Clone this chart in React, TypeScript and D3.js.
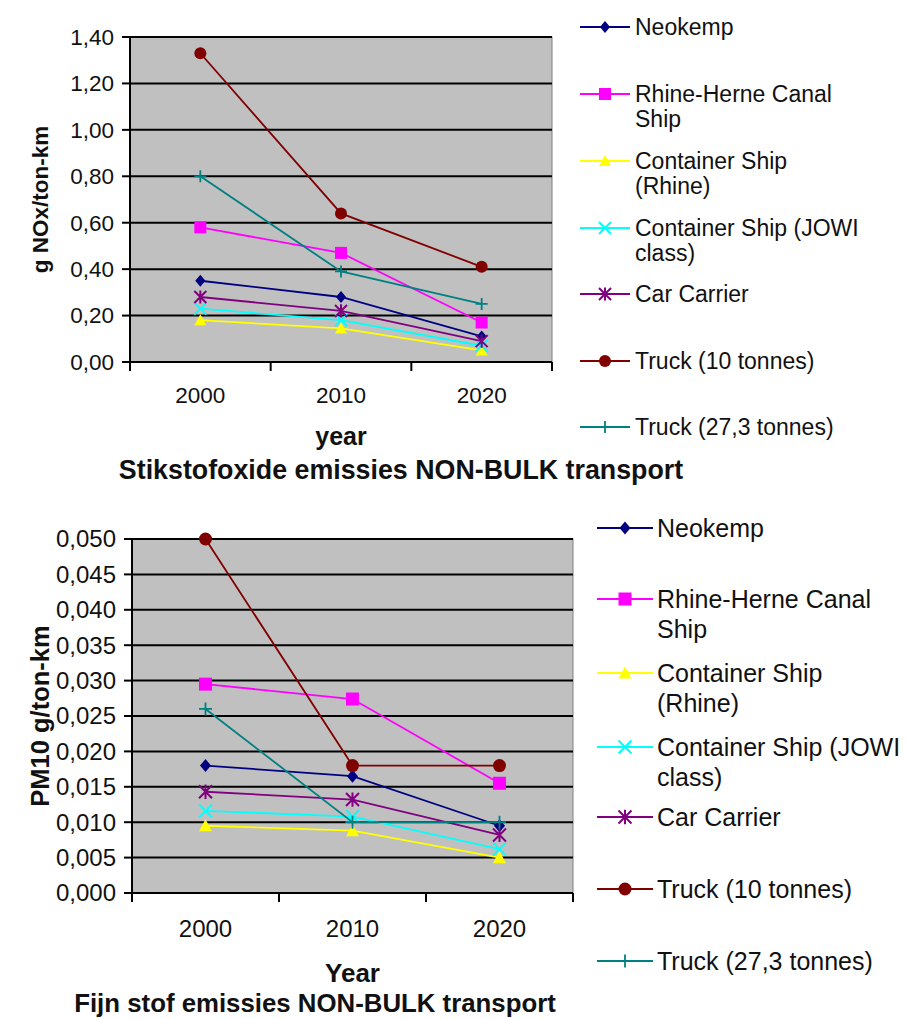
import React from "react";
import * as d3 from "d3";

// Categories and series
const years = ["2000", "2010", "2020"];
const seriesLabels: string[][] = [
  ["Neokemp"],
  ["Rhine-Herne Canal", "Ship"],
  ["Container Ship", "(Rhine)"],
  ["Container Ship (JOWI", "class)"],
  ["Car Carrier"],
  ["Truck (10 tonnes)"],
  ["Truck (27,3 tonnes)"],
];
const seriesColors = ["#000080", "#FF00FF", "#FFFF00", "#00FFFF", "#800080", "#800000", "#008080"];
const seriesMarkers = ["diamond", "square", "triangle", "x", "star", "circle", "plus"];

// NOx, g/ton-km
const noxNeokemp = [0.35, 0.28, 0.11];
const noxRhineHerne = [0.58, 0.47, 0.17];
const noxContainerRhine = [0.18, 0.145, 0.05];
const noxContainerJowi = [0.23, 0.18, 0.07];
const noxCarCarrier = [0.28, 0.22, 0.09];
const noxTruck10 = [1.33, 0.64, 0.41];
const noxTruck27 = [0.8, 0.39, 0.25];

// PM10, g/ton-km
const pmNeokemp = [0.018, 0.0165, 0.0095];
const pmRhineHerne = [0.0295, 0.0274, 0.0155];
const pmContainerRhine = [0.0095, 0.0088, 0.005];
const pmContainerJowi = [0.0116, 0.0108, 0.0062];
const pmCarCarrier = [0.0143, 0.0132, 0.0082];
const pmTruck10 = [0.05, 0.018, 0.018];
const pmTruck27 = [0.026, 0.01, 0.01];

// Axis ticks
const noxTicks = [0, 0.2, 0.4, 0.6, 0.8, 1.0, 1.2, 1.4];
const pmTicks = [0, 0.005, 0.01, 0.015, 0.02, 0.025, 0.03, 0.035, 0.04, 0.045, 0.05];

const noxSeries = [noxNeokemp, noxRhineHerne, noxContainerRhine, noxContainerJowi, noxCarCarrier, noxTruck10, noxTruck27];
const pmSeries = [pmNeokemp, pmRhineHerne, pmContainerRhine, pmContainerJowi, pmCarCarrier, pmTruck10, pmTruck27];

const nl = d3.formatLocale({ decimal: ",", thousands: ".", grouping: [3], currency: ["", ""] });

const FONT = "'Liberation Sans', Arial, sans-serif";

type Layout = {
  left: number;
  right: number;
  top: number;
  bottom: number;
  yMax: number;
  ticks: number[];
  fmt: string;
  tickFont: number;
  xLabelY: number;
  xTitle: string;
  xTitleY: number;
  xTitleFont: number;
  yTitle: string;
  yTitleX: number;
  yTitleFont: number;
  title: string;
  titleX: number;
  titleY: number;
  titleFont: number;
  legendX0: number;
  legendX1: number;
  legendTextX: number;
  legendYs: number[];
  legendFont: number;
  legendLineGap: number;
  markerSize: number;
  data: number[][];
};

function Marker({ kind, x, y, color, s }: { kind: string; x: number; y: number; color: string; s: number }) {
  switch (kind) {
    case "diamond":
      return <path d={`M${x},${y - s}L${x + s * 0.85},${y}L${x},${y + s}L${x - s * 0.85},${y}Z`} fill={color} />;
    case "square":
      return <rect x={x - s} y={y - s} width={2 * s} height={2 * s} fill={color} />;
    case "triangle":
      return <path d={`M${x},${y - s}L${x + s},${y + s * 0.85}L${x - s},${y + s * 0.85}Z`} fill={color} />;
    case "circle":
      return <circle cx={x} cy={y} r={s} fill={color} />;
    case "x":
      return (
        <path
          d={`M${x - s},${y - s}L${x + s},${y + s}M${x - s},${y + s}L${x + s},${y - s}`}
          stroke={color}
          strokeWidth={2}
          fill="none"
        />
      );
    case "star":
      return (
        <path
          d={`M${x - s},${y - s}L${x + s},${y + s}M${x - s},${y + s}L${x + s},${y - s}M${x},${y - s * 1.1}L${x},${y + s * 1.1}`}
          stroke={color}
          strokeWidth={2}
          fill="none"
        />
      );
    case "plus":
      return (
        <path
          d={`M${x - s},${y}L${x + s},${y}M${x},${y - s}L${x},${y + s}`}
          stroke={color}
          strokeWidth={1.8}
          fill="none"
        />
      );
    default:
      return null;
  }
}

function LineChart({ L }: { L: Layout }) {
  const x = d3.scaleBand<string>().domain(years).range([L.left, L.right]);
  const y = d3.scaleLinear().domain([0, L.yMax]).range([L.bottom, L.top]);
  const fmt = nl.format(L.fmt);
  const line = d3
    .line<number>()
    .x((_, i) => (x(years[i]) as number) + x.bandwidth() / 2)
    .y((d) => y(d));
  const boundaries = [...years.map((yr) => x(yr) as number), L.right];

  return (
    <g fontFamily={FONT}>
      {/* plot area */}
      <rect x={L.left} y={L.top} width={L.right - L.left} height={L.bottom - L.top} fill="#C0C0C0" stroke="#808080" strokeWidth={1} />
      {/* gridlines */}
      {L.ticks.slice(1).map((t) => (
        <line key={t} x1={L.left} x2={L.right} y1={y(t)} y2={y(t)} stroke="#000" strokeWidth={2} />
      ))}
      {/* y axis */}
      <line x1={L.left} x2={L.left} y1={L.top} y2={L.bottom} stroke="#000" strokeWidth={2} />
      {L.ticks.map((t) => (
        <g key={"yt" + t}>
          <line x1={L.left - 8} x2={L.left} y1={y(t)} y2={y(t)} stroke="#000" strokeWidth={2} />
          <text x={L.left - 16} y={y(t)} dy="0.35em" textAnchor="end" fontSize={L.tickFont} fill="#111">
            {fmt(t)}
          </text>
        </g>
      ))}
      {/* x axis */}
      <line x1={L.left} x2={L.right} y1={L.bottom} y2={L.bottom} stroke="#000" strokeWidth={2} />
      {boundaries.map((bx, i) => (
        <line key={"xt" + i} x1={bx} x2={bx} y1={L.bottom} y2={L.bottom + 9} stroke="#000" strokeWidth={2} />
      ))}
      {years.map((yr) => (
        <text key={yr} x={(x(yr) as number) + x.bandwidth() / 2} y={L.xLabelY} textAnchor="middle" fontSize={L.tickFont} fill="#111">
          {yr}
        </text>
      ))}
      {/* series */}
      {L.data.map((vals, si) => (
        <g key={"s" + si}>
          <path d={line(vals) || ""} fill="none" stroke={seriesColors[si]} strokeWidth={1.8} />
          {vals.map((v, i) => (
            <Marker
              key={i}
              kind={seriesMarkers[si]}
              x={(x(years[i]) as number) + x.bandwidth() / 2}
              y={y(v)}
              color={seriesColors[si]}
              s={L.markerSize}
            />
          ))}
        </g>
      ))}
      {/* titles */}
      <text x={(L.left + L.right) / 2} y={L.xTitleY} textAnchor="middle" fontSize={L.xTitleFont} fontWeight="bold" fill="#111">
        {L.xTitle}
      </text>
      <text
        transform={`translate(${L.yTitleX},${(L.top + L.bottom) / 2}) rotate(-90)`}
        textAnchor="middle"
        dy="0.35em"
        fontSize={L.yTitleFont}
        fontWeight="bold"
        fill="#111"
      >
        {L.yTitle}
      </text>
      <text x={L.titleX} y={L.titleY} textAnchor="middle" fontSize={L.titleFont} fontWeight="bold" fill="#111">
        {L.title}
      </text>
      {/* legend */}
      {seriesLabels.map((lines, si) => {
        const ly = L.legendYs[si];
        return (
          <g key={"lg" + si}>
            <line x1={L.legendX0} x2={L.legendX1} y1={ly} y2={ly} stroke={seriesColors[si]} strokeWidth={2} />
            <Marker kind={seriesMarkers[si]} x={(L.legendX0 + L.legendX1) / 2} y={ly} color={seriesColors[si]} s={L.markerSize} />
            {lines.map((t, li) => (
              <text key={li} x={L.legendTextX} y={ly + li * L.legendLineGap} dy="0.35em" fontSize={L.legendFont} fill="#111">
                {t}
              </text>
            ))}
          </g>
        );
      })}
    </g>
  );
}

const noxLayout: Layout = {
  left: 130,
  right: 552,
  top: 37,
  bottom: 362,
  yMax: 1.4,
  ticks: noxTicks,
  fmt: ".2f",
  tickFont: 22.5,
  xLabelY: 403,
  xTitle: "year",
  xTitleY: 445,
  xTitleFont: 25,
  yTitle: "g NOx/ton-km",
  yTitleX: 40,
  yTitleFont: 22.5,
  title: "Stikstofoxide emissies NON-BULK transport",
  titleX: 401,
  titleY: 479,
  titleFont: 26.8,
  legendX0: 580,
  legendX1: 630,
  legendTextX: 635,
  legendYs: [27, 94, 161, 228, 294, 361, 427],
  legendFont: 23,
  legendLineGap: 25,
  markerSize: 6,
  data: noxSeries,
};

const pmLayout: Layout = {
  left: 132,
  right: 573,
  top: 539,
  bottom: 893,
  yMax: 0.05,
  ticks: pmTicks,
  fmt: ".3f",
  tickFont: 24,
  xLabelY: 937,
  xTitle: "Year",
  xTitleY: 982,
  xTitleFont: 26,
  yTitle: "PM10 g/ton-km",
  yTitleX: 40,
  yTitleFont: 25.5,
  title: "Fijn stof emissies NON-BULK transport",
  titleX: 315,
  titleY: 1012,
  titleFont: 25.8,
  legendX0: 597,
  legendX1: 653,
  legendTextX: 657,
  legendYs: [528, 599, 673, 747, 817, 889, 961],
  legendFont: 25,
  legendLineGap: 30,
  markerSize: 6.5,
  data: pmSeries,
};

export default function App() {
  return (
    <svg
      width={906}
      height={1019}
      viewBox="0 0 906 1019"
      style={{ position: "absolute", left: 0, top: 0, display: "block", background: "#fff" }}
    >
      <LineChart L={noxLayout} />
      <LineChart L={pmLayout} />
    </svg>
  );
}
